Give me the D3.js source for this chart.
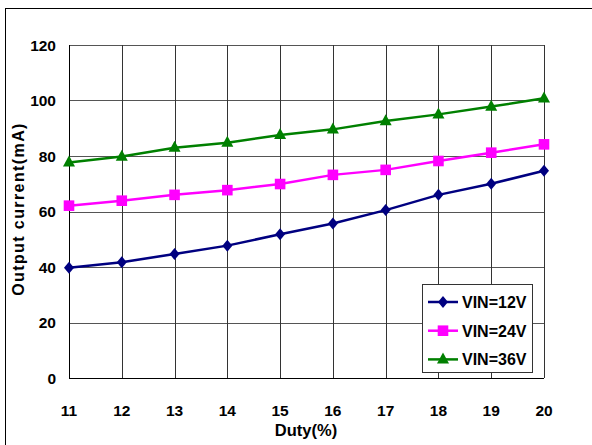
<!DOCTYPE html>
<html><head><meta charset="utf-8">
<script src="https://cdn.jsdelivr.net/npm/d3@7"></script>
<style>body{margin:0;background:#fff;} svg{display:block;font-family:Arial,"Liberation Sans",sans-serif;}</style>
</head><body>
<script>
const duty = [11,12,13,14,15,16,17,18,19,20];
const vin12 = [39.7,41.7,44.7,47.7,51.8,55.7,60.5,66,70,74.7];
const vin24 = [62.1,63.9,66,67.7,69.9,73.2,75,78.2,81.2,84.2];
const vin36 = [77.7,79.8,83,84.8,87.6,89.6,92.6,95,97.8,100.8];
const yTicks = [0,20,40,60,80,100,120];
const seriesNames = ["VIN=12V","VIN=24V","VIN=36V"];
const seriesColors = ["#000080","#ff00ff","#008000"];
const series = [vin12, vin24, vin36];

// marker shapes (custom symbol types for d3.symbol)
const diamond = {draw(ctx,size){const w=5,h=6;ctx.moveTo(0,-h);ctx.lineTo(w,0);ctx.lineTo(0,h);ctx.lineTo(-w,0);ctx.closePath();}};
const square = {draw(ctx,size){const s=5.3;ctx.rect(-s,-s,2*s,2*s);}};
const triangle = {draw(ctx,size){const w=6,h=11;ctx.moveTo(0,-h*0.62);ctx.lineTo(w,h*0.38);ctx.lineTo(-w,h*0.38);ctx.closePath();}};
const seriesShapes = [diamond, square, triangle];

const W=592,H=445;
const svg=d3.select("body").append("svg").attr("width",W).attr("height",H);
svg.append("rect").attr("x",5.5).attr("y",8.5).attr("width",600).attr("height",500).attr("fill","none").attr("stroke","#000").attr("stroke-width",1);

const x=d3.scaleLinear().domain([11,20]).range([69,544]);
const y=d3.scaleLinear().domain([0,120]).range([378,45]);

const g=svg.append("g");
g.selectAll(".hg").data(yTicks.filter(d=>d>0)).enter().append("line")
 .attr("x1",x(11)).attr("x2",x(20)).attr("y1",d=>Math.round(y(d))+0.5).attr("y2",d=>Math.round(y(d))+0.5)
 .attr("stroke","#555").attr("stroke-width",1);
g.selectAll(".vg").data(duty.filter(d=>d>11)).enter().append("line")
 .attr("y1",y(120)).attr("y2",y(0)).attr("x1",d=>Math.round(x(d))+0.5).attr("x2",d=>Math.round(x(d))+0.5)
 .attr("stroke","#333").attr("stroke-width",1);
g.append("line").attr("x1",x(11)).attr("x2",x(20)).attr("y1",Math.round(y(0))+0.5).attr("y2",Math.round(y(0))+0.5).attr("stroke","#000");
g.append("line").attr("x1",Math.round(x(11))+0.5).attr("x2",Math.round(x(11))+0.5).attr("y1",y(0)).attr("y2",y(120)).attr("stroke","#000");

svg.selectAll(".yl").data(yTicks).enter().append("text")
 .attr("x",56).attr("y",d=>y(d)+5.5).attr("text-anchor","end")
 .attr("font-size",15.5).attr("font-weight","bold").text(d=>d);
svg.selectAll(".xl").data(duty).enter().append("text")
 .attr("x",d=>x(d)).attr("y",416).attr("text-anchor","middle")
 .attr("font-size",15.5).attr("font-weight","bold").text(d=>d);
svg.append("text").attr("x",306).attr("y",436).attr("text-anchor","middle")
 .attr("font-size",16.5).attr("font-weight","bold").text("Duty(%)");
svg.append("text").attr("transform","translate(24,209) rotate(-90)").attr("text-anchor","middle")
 .attr("font-size",16).attr("font-weight","bold").attr("letter-spacing",1.4).text("Output current(mA)");

const line=d3.line().x((d,i)=>x(duty[i])).y(d=>y(d));
series.forEach((s,k)=>{
  svg.append("path").datum(s).attr("d",line).attr("fill","none").attr("stroke",seriesColors[k]).attr("stroke-width",2.5);
  svg.selectAll(".m"+k).data(s).enter().append("path")
   .attr("transform",(d,i)=>`translate(${x(duty[i])},${y(d)})`)
   .attr("d",d3.symbol().type(seriesShapes[k])).attr("fill",seriesColors[k]);
});

const lg=svg.append("g");
lg.append("rect").attr("x",422.5).attr("y",284.5).attr("width",110).attr("height",88).attr("fill","#fff").attr("stroke","#333");
seriesNames.forEach((n,k)=>{
  const ly=302+k*28.7;
  lg.append("line").attr("x1",428).attr("x2",458).attr("y1",ly).attr("y2",ly).attr("stroke",seriesColors[k]).attr("stroke-width",2.5);
  lg.append("path").attr("transform",`translate(443,${ly})`).attr("d",d3.symbol().type(seriesShapes[k])).attr("fill",seriesColors[k]);
  lg.append("text").attr("x",462).attr("y",ly+6).attr("font-size",16).attr("font-weight","bold").text(n);
});
</script>
</body></html>
